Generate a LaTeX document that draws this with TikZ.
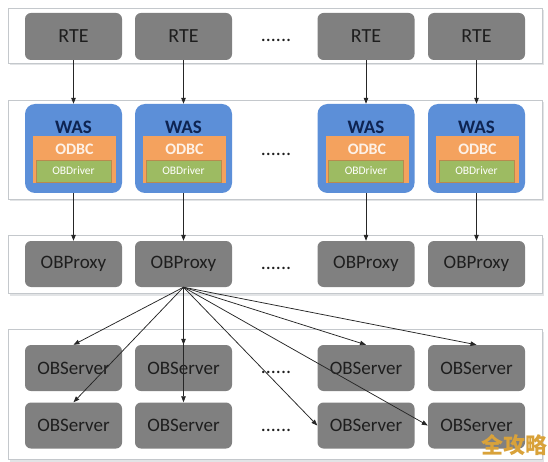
\documentclass[tikz,border=0pt]{standalone}
\usepackage{fontspec}
\setmainfont{Carlito}
\newfontfamily\cjk{Noto Sans CJK SC}
\usetikzlibrary{arrows.meta}
\definecolor{boxgray}{HTML}{808080}
\definecolor{textdark}{HTML}{1E1E1E}
\definecolor{framegray}{HTML}{C4C8CC}
\definecolor{shadowgray}{HTML}{E2E4E6}
\definecolor{wasblue}{HTML}{5C8FD8}
\definecolor{odbcorange}{HTML}{F4A25E}
\definecolor{drvgreen}{HTML}{9DBB62}
\definecolor{drvborder}{HTML}{B98A4E}
\definecolor{navy}{HTML}{0E2452}
\definecolor{wmgold}{HTML}{D9A23A}
\begin{document}
\begin{tikzpicture}[x=1pt,y=-1pt,
  container/.style={draw=framegray, line width=0.9pt, fill=white, inner sep=0pt, minimum width=534pt},
  shadowbox/.style={fill=shadowgray, inner sep=0pt, minimum width=534pt},
  gbox/.style={fill=boxgray, rounded corners=6pt, minimum width=97pt, minimum height=46pt, inner sep=0pt, text=textdark, font=\fontsize{19}{21}\selectfont},
  rtebox/.style={gbox, minimum height=47pt, font=\fontsize{20}{22}\selectfont},
  wasbox/.style={fill=wasblue, rounded corners=10pt, minimum width=97pt, minimum height=89pt, inner sep=0pt},
  wastext/.style={text=navy, font=\bfseries\fontsize{19}{21}\selectfont, inner sep=0pt},
  odbcbox/.style={fill=odbcorange, minimum width=83pt, minimum height=47pt, inner sep=0pt},
  odbctext/.style={text=white!85!odbcorange, font=\bfseries\fontsize{16}{18}\selectfont, inner sep=0pt},
  drvbox/.style={fill=drvgreen, draw=drvborder, line width=0.8pt, minimum width=75pt, minimum height=22pt, inner sep=0pt, text=white, font=\fontsize{11.5}{13}\selectfont},
  dots/.style={text=textdark, font=\fontsize{20}{22}\selectfont, inner sep=0pt},
  arr/.style={-{Triangle[length=6pt,width=4.5pt]}, line width=0.75pt, draw=black!85}
]
\useasboundingbox (0,0) rectangle (548,462);

% containers with light shadows
\node[shadowbox, minimum height=55pt] at (277,38) {};
\node[container, minimum height=55pt] (c1) at (275,35.5) {};
\node[shadowbox, minimum height=99pt] at (277,152) {};
\node[container, minimum height=99pt] (c2) at (275,149.5) {};
\node[shadowbox, minimum height=58pt] at (277,266.5) {};
\node[container, minimum height=58pt] (c3) at (275,264) {};
\node[shadowbox, minimum height=130pt] at (277,396.5) {};
\node[container, minimum height=130pt] (c4) at (275,394) {};

% RTE row
\node[rtebox] (rte1) at (73.5,36.5) {RTE};
\node[rtebox] (rte2) at (183.5,36.5) {RTE};
\node[rtebox] (rte3) at (366,36.5) {RTE};
\node[rtebox] (rte4) at (476.5,36.5) {RTE};
\node[dots] (d1) at (276,40) {......};

% WAS row
\foreach \i/\x in {1/73.5,2/183.5,3/366,4/476.5}{
  \node[wasbox] (was\i) at (\x,148.5) {};
  \node[wastext] (wast\i) at (\x,127) {WAS};
  \node[odbcbox] (odbc\i) at (\x+1,159.5) {};
  \node[odbctext] (odbct\i) at (\x+1,149) {ODBC};
  \node[drvbox] (drv\i) at (\x,171) {OBDriver};
}
\node[dots] (d2) at (276,154) {......};

% OBProxy row
\node[gbox] (prx1) at (73.5,264) {OBProxy};
\node[gbox] (prx2) at (183.5,264) {OBProxy};
\node[gbox] (prx3) at (366,264) {OBProxy};
\node[gbox] (prx4) at (476.5,264) {OBProxy};
\node[dots] (d3) at (276,268) {......};

% OBServer rows
\node[gbox] (s11) at (73.5,368) {OBServer};
\node[gbox] (s12) at (183.5,368) {OBServer};
\node[gbox] (s13) at (366,368) {OBServer};
\node[gbox] (s14) at (476.5,368) {OBServer};
\node[gbox] (s21) at (73.5,425.5) {OBServer};
\node[gbox] (s22) at (183.5,425.5) {OBServer};
\node[gbox] (s23) at (366,425.5) {OBServer};
\node[gbox] (s24) at (476.5,425.5) {OBServer};
\node[dots] (d4) at (276,372) {......};
\node[dots] (d5) at (276,430) {......};

% arrows RTE -> WAS -> OBProxy
\foreach \i in {1,2,3,4}{
  \draw[arr] (rte\i.south) -- (was\i.north);
  \draw[arr] (was\i.south) -- (prx\i.north);
}

% fan from OBProxy 2
\draw[arr] (prx2.south) -- (s11.north);
\draw[arr] (prx2.south) -- (s21.north);
\draw[arr] (prx2.south) -- (s12.north);
\draw[arr] (prx2.south) -- (s22.north);
\draw[arr] (prx2.south) -- (s13.north);
\draw[arr] (prx2.south) -- (s14.north);
\draw[arr] (prx2.south) -- (s23.west);
\draw[arr] (prx2.south) -- (s24.west);

% watermark
\node[text=wmgold, font=\cjk\bfseries\fontsize{22}{24}\selectfont, inner sep=0pt] (wm) at (514,445) {全攻略};
\end{tikzpicture}
\end{document}
